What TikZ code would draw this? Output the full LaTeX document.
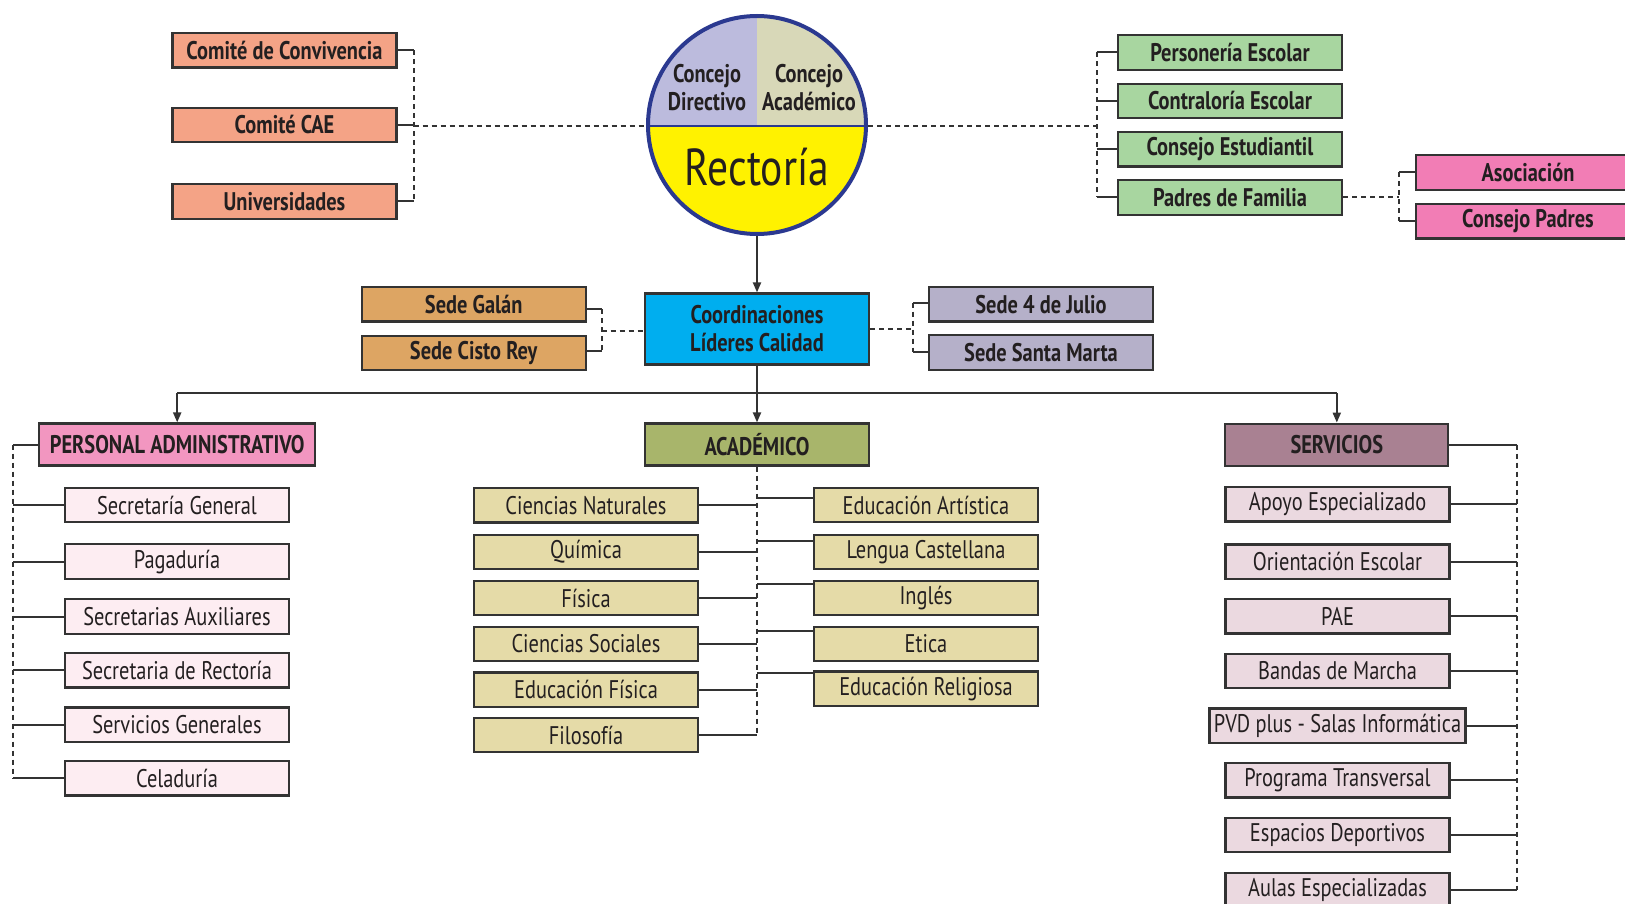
\documentclass[tikz,border=0pt]{standalone}
\usepackage{fontspec}
\setmainfont{PT Sans}[FakeStretch=0.8]
\usetikzlibrary{calc,arrows.meta}
\definecolor{salmon}{HTML}{F4A386}
\definecolor{circlav}{HTML}{BCBBDD}
\definecolor{circkh}{HTML}{D8D8B8}
\definecolor{yel}{HTML}{FFF200}
\definecolor{navy}{HTML}{2B3990}
\definecolor{grn}{HTML}{A8D6A0}
\definecolor{pinka}{HTML}{F27DB5}
\definecolor{tan}{HTML}{DDA563}
\definecolor{cyanb}{HTML}{00AEEF}
\definecolor{lavgray}{HTML}{B5B0C9}
\definecolor{perspink}{HTML}{F296C0}
\definecolor{perssub}{HTML}{FDEDF2}
\definecolor{olive}{HTML}{A8B56B}
\definecolor{acadsub}{HTML}{E5DBA8}
\definecolor{mauve}{HTML}{A98192}
\definecolor{servsub}{HTML}{EBD9E0}
\definecolor{bord}{HTML}{333333}
\definecolor{txt}{HTML}{231F20}
\definecolor{lin}{HTML}{333333}
\begin{document}
\begin{tikzpicture}[x=1pt,y=-1pt,
  box/.style={draw=bord,line width=2.2pt,inner sep=0pt,minimum width=224pt,minimum height=34.5pt,text=txt,align=center},
  tbox/.style={box,font=\fontsize{25.5}{28}\selectfont\bfseries},
  sbox/.style={box,font=\fontsize{25.5}{28}\selectfont},
  solidc/.style={draw=lin,line width=2pt},
  dashc/.style={draw=lin,line width=2pt,dash pattern=on 5pt off 4pt},
  arr/.style={draw=lin,line width=2pt,-{Triangle[length=10pt,width=8pt]}}]
\useasboundingbox (0,0) rectangle (1625,904);
\fill[white] (0,0) rectangle (1625,904);

% committees
\node[tbox,fill=salmon] (cc) at (284.5,50.2) {Comité de Convivencia};
\node[tbox,fill=salmon] (cae) at (284.5,124.9) {Comité CAE};
\node[tbox,fill=salmon] (uni) at (284.5,201.5) {Universidades};

% circle
\begin{scope}
\clip (757,125) circle [radius=109pt];
\fill[circlav] (640,10) rectangle (757,126);
\fill[circkh] (757,10) rectangle (875,126);
\fill[yel] (640,126) rectangle (875,240);
\draw[line width=2.5pt,draw=navy] (640,126) -- (875,126);
\end{scope}
\node[circle,draw=navy,line width=4pt,minimum size=218pt,inner sep=0pt] (rect) at (757,125) {};
\node[font=\fontsize{25.5}{28}\selectfont\bfseries,align=center,text=txt] (cdir) at (707,88) {Concejo\\Directivo};
\node[font=\fontsize{25.5}{28}\selectfont\bfseries,align=center,text=txt] (cacad) at (809,88) {Concejo\\Académico};
\node[font=\fontsize{52}{60}\selectfont,text=txt] (rtext) at (757,167) {Rectoría};

% green
\node[tbox,fill=grn] (per) at (1230,52.4) {Personería Escolar};
\node[tbox,fill=grn] (con) at (1230,101) {Contraloría Escolar};
\node[tbox,fill=grn] (est) at (1230,149.3) {Consejo Estudiantil};
\node[tbox,fill=grn] (pad) at (1230,197.5) {Padres de Familia};
% pink
\node[tbox,fill=pinka] (asoc) at (1528,172.5) {Asociación};
\node[tbox,fill=pinka] (cpad) at (1528,221.3) {Consejo Padres};

% coordinaciones and sedes
\node[tbox,fill=cyanb,minimum height=71pt] (coord) at (757,329) {Coordinaciones\\Líderes Calidad};
\node[tbox,fill=tan] (galan) at (473.7,304.2) {Sede Galán};
\node[tbox,fill=tan] (cisto) at (473.7,352.9) {Sede Cisto Rey};
\node[tbox,fill=lavgray] (julio) at (1041,304.2) {Sede 4 de Julio};
\node[tbox,fill=lavgray] (smarta) at (1041,352.5) {Sede Santa Marta};

% level heads
\node[tbox,fill=perspink,minimum width=276pt,minimum height=42pt] (pers) at (177.2,444.5) {PERSONAL ADMINISTRATIVO};
\node[tbox,fill=olive,minimum height=42pt] (acad) at (757,444.5) {ACADÉMICO};
\node[tbox,fill=mauve,minimum width=223pt,minimum height=42pt] (serv) at (1336.8,444.7) {SERVICIOS};

% personal subs
\node[sbox,fill=perssub] (ps1) at (177,505.1) {Secretaría General};
\node[sbox,fill=perssub] (ps2) at (177,561.6) {Pagaduría};
\node[sbox,fill=perssub] (ps3) at (177,616.6) {Secretarias Auxiliares};
\node[sbox,fill=perssub] (ps4) at (177,670.3) {Secretaria de Rectoría};
\node[sbox,fill=perssub] (ps5) at (177,724.7) {Servicios Generales};
\node[sbox,fill=perssub] (ps6) at (177,778.3) {Celaduría};

% academic subs
\node[sbox,fill=acadsub] (al1) at (586,505.3) {Ciencias Naturales};
\node[sbox,fill=acadsub] (al2) at (586,552) {Química};
\node[sbox,fill=acadsub] (al3) at (586,598) {Física};
\node[sbox,fill=acadsub] (al4) at (586,644) {Ciencias Sociales};
\node[sbox,fill=acadsub] (al5) at (586,689.7) {Educación Física};
\node[sbox,fill=acadsub] (al6) at (586,735) {Filosofía};
\node[sbox,fill=acadsub] (ar1) at (926,505) {Educación Artística};
\node[sbox,fill=acadsub] (ar2) at (926,552) {Lengua Castellana};
\node[sbox,fill=acadsub] (ar3) at (926,598) {Inglés};
\node[sbox,fill=acadsub] (ar4) at (926,644) {Etica};
\node[sbox,fill=acadsub] (ar5) at (926,688.7) {Educación Religiosa};

% services subs
\node[sbox,fill=servsub] (sv1) at (1337.5,504.3) {Apoyo Especializado};
\node[sbox,fill=servsub] (sv2) at (1337.5,561.7) {Orientación Escolar};
\node[sbox,fill=servsub] (sv3) at (1337.5,616.3) {PAE};
\node[sbox,fill=servsub] (sv4) at (1337.5,671) {Bandas de Marcha};
\node[sbox,fill=servsub,minimum width=256pt] (sv5) at (1337.5,725.7) {PVD plus - Salas Informática};
\node[sbox,fill=servsub] (sv6) at (1337.5,780.3) {Programa Transversal};
\node[sbox,fill=servsub] (sv7) at (1337.5,835) {Espacios Deportivos};
\node[sbox,fill=servsub] (sv8) at (1337.5,890) {Aulas Especializadas};

% ---- connectors ----
% committees bracket
\coordinate (lbr) at (413.5,126);
\draw[dashc] (cc.east -| lbr) -- (uni.east -| lbr);
\draw[solidc] (cc.east) -- (cc.east -| lbr);
\draw[solidc] (cae.east) -- (cae.east -| lbr);
\draw[solidc] (uni.east) -- (uni.east -| lbr);
\draw[dashc] (lbr) -- (lbr -| rect.west);
% green bracket
\coordinate (rbr) at (1096.5,126);
\draw[dashc] (rbr -| rect.east) -- (rbr);
\draw[dashc] (per.west -| rbr) -- (pad.west -| rbr);
\foreach \n in {per,con,est,pad} \draw[solidc] (\n.west -| rbr) -- (\n.west);
% pink bracket
\coordinate (pbr) at (1399.3,197.5);
\draw[dashc] (pad.east) -- (pad.east -| pbr);
\draw[dashc] (asoc.west -| pbr) -- (cpad.west -| pbr);
\foreach \n in {asoc,cpad} \draw[solidc] (\n.west -| pbr) -- (\n.west);
% rectoria to coordinaciones
\draw[arr] (rect.south) -- (coord.north);
% sedes brackets
\coordinate (gb1) at (601.5,309.3);
\coordinate (gb2) at (601.5,350.7);
\coordinate (gbm) at (601.5,330.7);
\draw[solidc] (galan.east |- gb1) -- (gb1);
\draw[solidc] (cisto.east |- gb2) -- (gb2);
\draw[dashc] (gb1) -- (gb2);
\draw[dashc] (gbm) -- (gbm -| coord.west);
\coordinate (jb1) at (913.3,302.7);
\coordinate (jb2) at (913.3,351.7);
\coordinate (jbm) at (913.3,329);
\draw[dashc] (coord.east |- jbm) -- (jbm);
\draw[dashc] (jb1) -- (jb2);
\draw[solidc] (jb1) -- (julio.west |- jb1);
\draw[solidc] (jb2) -- (smarta.west |- jb2);
% main distribution
\coordinate (hl) at (757,393.3);
\draw[solidc] (pers.north |- hl) -- (serv.north |- hl);
\draw[arr] (pers.north |- hl) -- (pers.north);
\draw[arr] (serv.north |- hl) -- (serv.north);
\draw[arr] (coord.south) -- (acad.north);
% personal bracket
\coordinate (pbx) at (13.3,0);
\draw[dashc] (pers.west -| pbx) -- (ps6.west -| pbx);
\foreach \n in {pers,ps1,ps2,ps3,ps4,ps5,ps6} \draw[solidc] (\n.west -| pbx) -- (\n.west);
% academic
\coordinate (ax) at (757,735);
\draw[dashc] (acad.south) -- (ax);
\foreach \n in {al1,al2,al3,al4,al5,al6} \draw[solidc] (\n.east) -- (\n.east -| ax);
\foreach \n/\yy in {ar1/498,ar2/540.7,ar3/584,ar4/630.7,ar5/673.3} \draw[solidc] (757,\yy) -- (\n.west |- 0,\yy);
% services bracket
\coordinate (sbx) at (1517.3,0);
\draw[dashc] (serv.east -| sbx) -- (sv8.east -| sbx);
\foreach \n in {serv,sv1,sv2,sv3,sv4,sv5,sv6,sv7,sv8} \draw[solidc] (\n.east) -- (\n.east -| sbx);
\end{tikzpicture}
\end{document}
